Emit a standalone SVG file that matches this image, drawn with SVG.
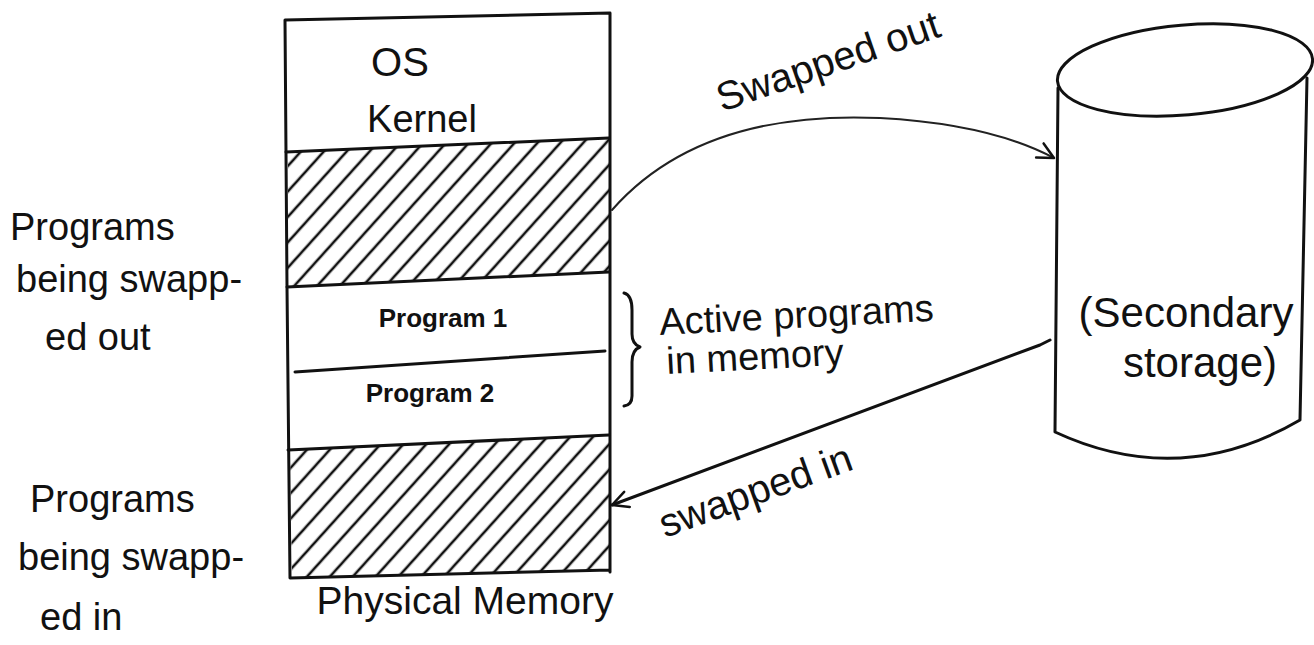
<svg xmlns="http://www.w3.org/2000/svg" width="1314" height="645" viewBox="0 0 1314 645">
<style>
.ln{fill:none;stroke:#111;stroke-width:3;stroke-linecap:round;stroke-linejoin:round}
.thin{fill:none;stroke:#222;stroke-width:2;stroke-linecap:round}
.t{font-family:"Liberation Sans",Arial,sans-serif;fill:#111}
.h{fill:url(#hatch)}
</style>
<defs>
<pattern id="hatch" patternUnits="userSpaceOnUse" width="17" height="17" patternTransform="rotate(42)">
<line x1="2" y1="0" x2="2" y2="17" stroke="#111" stroke-width="2.6"/>
</pattern>
<marker id="arr" viewBox="0 0 20 20" refX="18" refY="10" markerWidth="20" markerHeight="20" markerUnits="userSpaceOnUse" orient="auto">
<path d="M2,2 L18,10 L2,18" fill="none" stroke="#111" stroke-width="2.5" stroke-linecap="round" stroke-linejoin="round"/>
</marker>
</defs>
<rect width="1314" height="645" fill="#fff"/>

<g id="memory">
<polygon class="h" points="288,152 609,138 609,272 288,287"/>
<polygon class="h" points="290,450 609,435 609,570 292,578"/>
<path class="ln" d="M285,20 L610,13 L610,572 M285,20 L287,287 L290,578 L610,570"/>
<path class="ln" d="M286,152 L609,138"/>
<path class="ln" d="M287,287 L609,272"/>
<path class="ln" d="M295,372 L605,351"/>
<path class="ln" d="M288,450 L609,435"/>
<text class="t" x="400" y="76" font-size="40" text-anchor="middle">OS</text>
<text class="t" x="422" y="132" font-size="38" text-anchor="middle">Kernel</text>
<text class="t" x="443" y="327" font-size="26" font-weight="bold" text-anchor="middle">Program 1</text>
<text class="t" x="430" y="402" font-size="26" font-weight="bold" text-anchor="middle">Program 2</text>
<text class="t" x="465" y="614" font-size="39" text-anchor="middle">Physical Memory</text>
</g>

<g id="storage">
<ellipse class="ln" cx="1185" cy="70" rx="128" ry="45" transform="rotate(-5 1185 70)"/>
<path class="ln" d="M1058,88 L1055,432 Q1180,490 1300,420 L1307,78"/>
<text class="t" x="1186" y="327" font-size="42" text-anchor="middle">(Secondary</text>
<text class="t" x="1200" y="377" font-size="42" text-anchor="middle">storage)</text>
</g>

<g id="left-labels">
<text class="t" x="10" y="240" font-size="38">Programs</text>
<text class="t" x="16" y="292" font-size="38">being swapp-</text>
<text class="t" x="45" y="350" font-size="38">ed out</text>
<text class="t" x="30" y="512" font-size="38">Programs</text>
<text class="t" x="18" y="570" font-size="38">being swapp-</text>
<text class="t" x="40" y="630" font-size="38">ed in</text>
</g>

<g id="active-label">
<path class="ln" d="M624,293 Q632,295 632,310 L632,334 Q632,344 640,347 Q632,350 632,362 L632,396 Q632,405 624,406"/>
<text class="t" x="660" y="335" font-size="38" transform="rotate(-3 660 335)">Active programs</text>
<text class="t" x="667" y="374" font-size="38" transform="rotate(-3 667 374)">in memory</text>
</g>

<g id="connectors">
<path class="thin" d="M612,210 Q700,110 880,118 Q990,124 1054,158" marker-end="url(#arr)"/>
<text class="t" x="722" y="112" font-size="40" transform="rotate(-19 722 112)">Swapped out</text>
<path class="ln" d="M1050,340 L1040,345 L612,505" marker-end="url(#arr)"/>
<text class="t" x="665" y="538" font-size="40" transform="rotate(-20 665 538)">swapped in</text>
</g>
</svg>
